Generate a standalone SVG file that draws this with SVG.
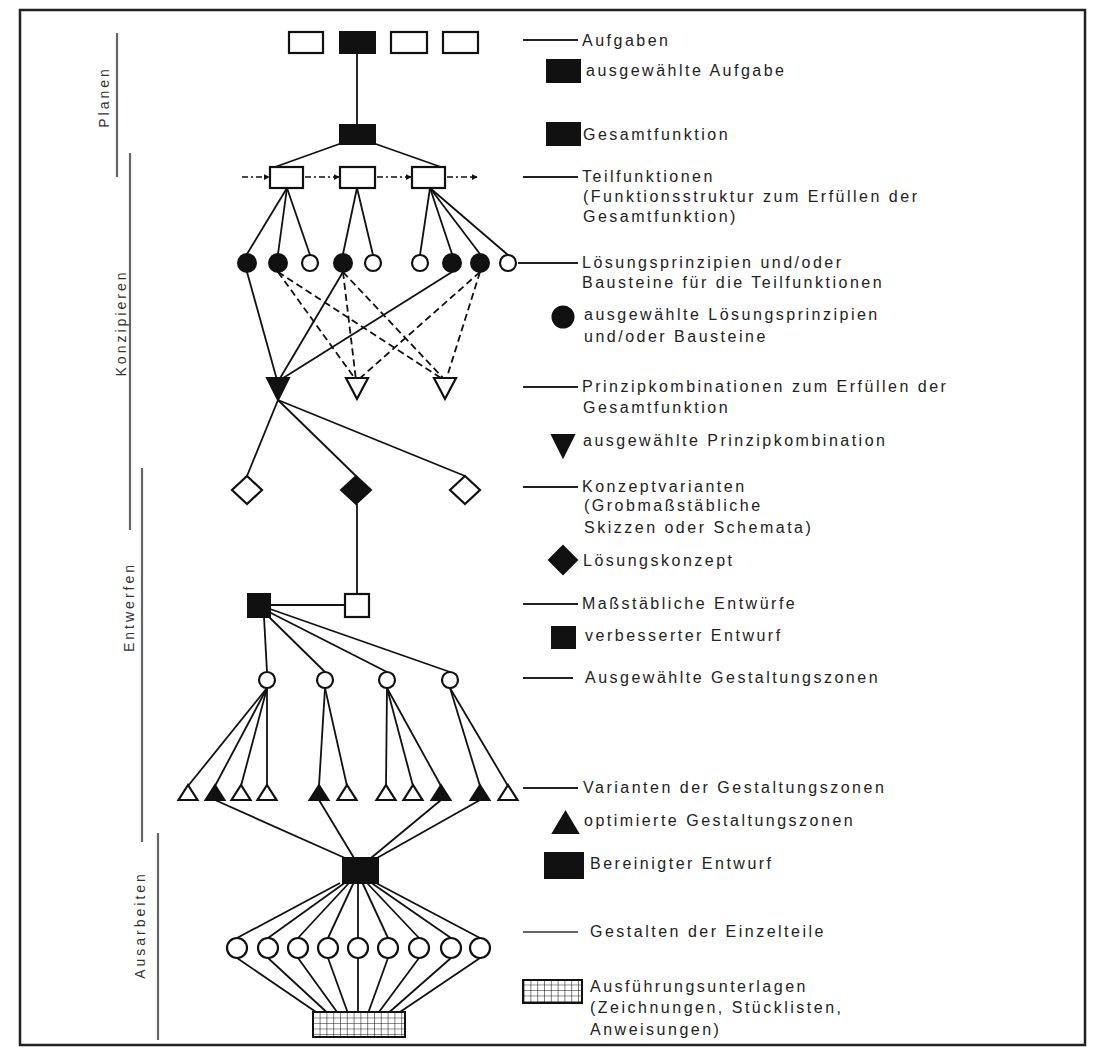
<svg xmlns="http://www.w3.org/2000/svg" width="1097" height="1056" viewBox="0 0 1097 1056">
  <defs>
    <style>
      .n { fill: #fff; stroke: #111; stroke-width: 2.2; }
      .f { fill: #111; stroke: #111; stroke-width: 2; }
      .h { fill: url(#grid); stroke: #111; stroke-width: 2; }
      .e { fill: none; stroke: #111; stroke-width: 1.8; }
      .d { fill: none; stroke: #111; stroke-width: 1.8; stroke-dasharray: 7 4; }
      .flow { fill: none; stroke: #111; stroke-width: 1.4; stroke-dasharray: 6 3 2 3; }
      .lead { stroke: #222; stroke-width: 2; }
      .thin { stroke: #333; stroke-width: 1.4; }
      .bar { stroke: #666; stroke-width: 2.2; }
      .lbl { font-family: "Liberation Sans", Arial, sans-serif; font-size: 16px; letter-spacing: 2.5px; fill: #222; }
      .side { font-family: "Liberation Sans", Arial, sans-serif; font-size: 14px; letter-spacing: 3px; fill: #333; text-anchor: middle; dominant-baseline: central; }
    </style>
    <pattern id="grid" width="6.8" height="5.5" patternUnits="userSpaceOnUse">
      <rect width="6.8" height="5.5" fill="#fff"/>
      <path d="M0 0H6.8M0 0V5.5" stroke="#111" stroke-width="1.1" fill="none"/>
    </pattern>
    <marker id="arr" viewBox="0 0 8 8" refX="7" refY="4" markerWidth="6" markerHeight="6" orient="auto" markerUnits="userSpaceOnUse">
      <path d="M0 0L8 4L0 8Z" fill="#111"/>
    </marker>
  </defs>

  <rect width="1097" height="1056" fill="#fff"/>

  <!-- page frame -->
  <rect x="20" y="10" width="1065" height="1035" fill="none" stroke="#222" stroke-width="2.5"/>

  <!-- phase bars and phase names -->
  <g id="phases">
    <line class="bar" x1="117" y1="33" x2="117" y2="177"/>
    <line class="bar" x1="130" y1="153" x2="130" y2="530"/>
    <line class="bar" x1="142" y1="468" x2="142" y2="842"/>
    <line class="bar" x1="158" y1="833" x2="158" y2="1040"/>
    <text class="side" transform="translate(104 97) rotate(-90)">Planen</text>
    <text class="side" transform="translate(121 323) rotate(-90)">Konzipieren</text>
    <text class="side" transform="translate(129 607) rotate(-90)">Entwerfen</text>
    <text class="side" transform="translate(140 925) rotate(-90)">Ausarbeiten</text>
  </g>

  <!-- connectors -->
  <g id="connectors">
    <!-- task to overall function -->
    <line class="e" x1="357" y1="53" x2="357" y2="125"/>
    <line class="e" x1="342" y1="143" x2="275" y2="167"/>
    <line class="e" x1="373" y1="143" x2="441" y2="167"/>
    <!-- function flow between sub-functions -->
    <line class="flow" x1="242" y1="177" x2="269" y2="177" marker-end="url(#arr)"/>
    <line class="flow" x1="305" y1="177" x2="339" y2="177" marker-end="url(#arr)"/>
    <line class="flow" x1="377" y1="177" x2="411" y2="177" marker-end="url(#arr)"/>
    <line class="flow" x1="447" y1="177" x2="477" y2="177" marker-end="url(#arr)"/>
    <!-- sub-functions to solution principles -->
    <line class="e" x1="287" y1="188" x2="247" y2="254"/>
    <line class="e" x1="287" y1="188" x2="278" y2="254"/>
    <line class="e" x1="287" y1="188" x2="310" y2="255"/>
    <line class="e" x1="357" y1="188" x2="343" y2="254"/>
    <line class="e" x1="357" y1="188" x2="373" y2="255"/>
    <line class="e" x1="430" y1="188" x2="420" y2="255"/>
    <line class="e" x1="430" y1="188" x2="452" y2="254"/>
    <line class="e" x1="430" y1="188" x2="480" y2="254"/>
    <line class="e" x1="430" y1="188" x2="508" y2="255"/>
    <!-- principles to combinations -->
    <line class="e" x1="247" y1="272" x2="277" y2="380"/>
    <line class="e" x1="343" y1="272" x2="279" y2="380"/>
    <line class="e" x1="452" y1="272" x2="280" y2="380"/>
    <line class="d" x1="278" y1="272" x2="356" y2="380"/>
    <line class="d" x1="278" y1="272" x2="444" y2="380"/>
    <line class="d" x1="343" y1="272" x2="356" y2="380"/>
    <line class="d" x1="343" y1="272" x2="445" y2="380"/>
    <line class="d" x1="480" y1="272" x2="358" y2="380"/>
    <line class="d" x1="480" y1="272" x2="446" y2="380"/>
    <!-- combination to concept variants -->
    <line class="e" x1="278" y1="400" x2="247" y2="476"/>
    <line class="e" x1="278" y1="400" x2="356" y2="476"/>
    <line class="e" x1="278" y1="400" x2="465" y2="476"/>
    <!-- concept to layouts -->
    <line class="e" x1="357" y1="504" x2="357" y2="594"/>
    <line class="e" x1="270" y1="605" x2="345" y2="605"/>
    <!-- improved layout to design zones -->
    <line class="e" x1="264" y1="617" x2="267" y2="672"/>
    <line class="e" x1="267" y1="615" x2="325" y2="672"/>
    <line class="e" x1="269" y1="612" x2="387" y2="672"/>
    <line class="e" x1="270" y1="609" x2="450" y2="672"/>
    <!-- design zones to variants -->
    <line class="e" x1="267" y1="688" x2="188" y2="786"/>
    <line class="e" x1="267" y1="688" x2="215" y2="786"/>
    <line class="e" x1="267" y1="688" x2="241" y2="786"/>
    <line class="e" x1="267" y1="688" x2="267" y2="786"/>
    <line class="e" x1="325" y1="688" x2="319" y2="786"/>
    <line class="e" x1="325" y1="688" x2="347" y2="786"/>
    <line class="e" x1="387" y1="688" x2="386" y2="786"/>
    <line class="e" x1="387" y1="688" x2="413" y2="786"/>
    <line class="e" x1="387" y1="688" x2="441" y2="786"/>
    <line class="e" x1="450" y1="688" x2="480" y2="786"/>
    <line class="e" x1="450" y1="688" x2="508" y2="786"/>
    <!-- optimised zones to definitive layout -->
    <line class="e" x1="215" y1="800" x2="345" y2="858"/>
    <line class="e" x1="319" y1="800" x2="354" y2="858"/>
    <line class="e" x1="441" y1="800" x2="371" y2="858"/>
    <line class="e" x1="480" y1="800" x2="377" y2="858"/>
    <!-- definitive layout to parts -->
    <line class="e" x1="340" y1="883" x2="237" y2="938"/>
    <line class="e" x1="344.5" y1="883" x2="268" y2="938"/>
    <line class="e" x1="349" y1="883" x2="298" y2="938"/>
    <line class="e" x1="353.5" y1="883" x2="328" y2="938"/>
    <line class="e" x1="358" y1="883" x2="358" y2="938"/>
    <line class="e" x1="362.5" y1="883" x2="388" y2="938"/>
    <line class="e" x1="367" y1="883" x2="419" y2="938"/>
    <line class="e" x1="371.5" y1="883" x2="451" y2="938"/>
    <line class="e" x1="376" y1="883" x2="480" y2="938"/>
    <!-- parts to production documents -->
    <line class="e" x1="237" y1="958" x2="316" y2="1012"/>
    <line class="e" x1="268" y1="958" x2="326.5" y2="1012"/>
    <line class="e" x1="298" y1="958" x2="337" y2="1012"/>
    <line class="e" x1="328" y1="958" x2="347.5" y2="1012"/>
    <line class="e" x1="358" y1="958" x2="358" y2="1012"/>
    <line class="e" x1="388" y1="958" x2="368.5" y2="1012"/>
    <line class="e" x1="419" y1="958" x2="379" y2="1012"/>
    <line class="e" x1="451" y1="958" x2="389.5" y2="1012"/>
    <line class="e" x1="480" y1="958" x2="400" y2="1012"/>
  </g>

  <!-- tasks -->
  <g id="aufgabe-1"><rect class="n" x="289" y="32" width="34" height="21"/></g>
  <g id="aufgabe-2"><rect class="f" x="340" y="32" width="35" height="21"/></g>
  <g id="aufgabe-3"><rect class="n" x="391" y="32" width="36" height="21"/></g>
  <g id="aufgabe-4"><rect class="n" x="443" y="32" width="35" height="21"/></g>

  <!-- overall function -->
  <g id="gesamtfunktion"><rect class="f" x="340" y="125" width="35" height="19"/></g>

  <!-- sub-functions -->
  <g id="teilfunktion-1"><rect class="n" x="270" y="167" width="33" height="21"/></g>
  <g id="teilfunktion-2"><rect class="n" x="340" y="167" width="35" height="21"/></g>
  <g id="teilfunktion-3"><rect class="n" x="412" y="167" width="33" height="21"/></g>

  <!-- solution principles -->
  <g id="prinzip-1"><circle class="f" cx="247" cy="263" r="9"/></g>
  <g id="prinzip-2"><circle class="f" cx="278" cy="263" r="9"/></g>
  <g id="prinzip-3"><circle class="n" cx="310" cy="263" r="8"/></g>
  <g id="prinzip-4"><circle class="f" cx="343" cy="263" r="9"/></g>
  <g id="prinzip-5"><circle class="n" cx="373" cy="263" r="8"/></g>
  <g id="prinzip-6"><circle class="n" cx="420" cy="263" r="8"/></g>
  <g id="prinzip-7"><circle class="f" cx="452" cy="263" r="9"/></g>
  <g id="prinzip-8"><circle class="f" cx="480" cy="263" r="9"/></g>
  <g id="prinzip-9"><circle class="n" cx="508" cy="263" r="8"/></g>

  <!-- principle combinations -->
  <g id="kombination-1"><polygon class="f" points="267,378 289,378 278,400"/></g>
  <g id="kombination-2"><polygon class="n" points="346,378 368,378 357,399"/></g>
  <g id="kombination-3"><polygon class="n" points="434,378 456,378 445,399"/></g>

  <!-- concept variants -->
  <g id="konzept-1"><polygon class="n" points="247,476 262,490 247,504 232,490"/></g>
  <g id="konzept-2"><polygon class="f" points="356,476 371,490 356,504 341,490"/></g>
  <g id="konzept-3"><polygon class="n" points="465,476 480,490 465,504 450,490"/></g>

  <!-- scale layouts -->
  <g id="entwurf-verbessert"><rect class="f" x="248" y="594" width="22" height="23"/></g>
  <g id="entwurf-1"><rect class="n" x="345" y="594" width="24" height="23"/></g>

  <!-- selected design zones -->
  <g id="zone-1"><circle class="n" cx="267" cy="680" r="8"/></g>
  <g id="zone-2"><circle class="n" cx="325" cy="680" r="8"/></g>
  <g id="zone-3"><circle class="n" cx="387" cy="680" r="8"/></g>
  <g id="zone-4"><circle class="n" cx="450" cy="680" r="8"/></g>

  <!-- design zone variants -->
  <g id="variante-1"><polygon class="n" points="178.5,800 197.5,800 188,785"/></g>
  <g id="variante-2"><polygon class="f" points="205.5,800 224.5,800 215,785"/></g>
  <g id="variante-3"><polygon class="n" points="231.5,800 250.5,800 241,785"/></g>
  <g id="variante-4"><polygon class="n" points="257.5,800 276.5,800 267,785"/></g>
  <g id="variante-5"><polygon class="f" points="309.5,800 328.5,800 319,785"/></g>
  <g id="variante-6"><polygon class="n" points="337.5,800 356.5,800 347,785"/></g>
  <g id="variante-7"><polygon class="n" points="376.5,800 395.5,800 386,785"/></g>
  <g id="variante-8"><polygon class="n" points="403.5,800 422.5,800 413,785"/></g>
  <g id="variante-9"><polygon class="f" points="431.5,800 450.5,800 441,785"/></g>
  <g id="variante-10"><polygon class="f" points="470.5,800 489.5,800 480,785"/></g>
  <g id="variante-11"><polygon class="n" points="498.5,800 517.5,800 508,785"/></g>

  <!-- definitive layout -->
  <g id="entwurf-bereinigt"><rect class="f" x="343" y="858" width="35" height="25"/></g>

  <!-- individual parts -->
  <g id="teil-1"><circle class="n" cx="237" cy="948" r="10"/></g>
  <g id="teil-2"><circle class="n" cx="268" cy="948" r="10"/></g>
  <g id="teil-3"><circle class="n" cx="298" cy="948" r="10"/></g>
  <g id="teil-4"><circle class="n" cx="328" cy="948" r="10"/></g>
  <g id="teil-5"><circle class="n" cx="358" cy="948" r="10"/></g>
  <g id="teil-6"><circle class="n" cx="388" cy="948" r="10"/></g>
  <g id="teil-7"><circle class="n" cx="419" cy="948" r="10"/></g>
  <g id="teil-8"><circle class="n" cx="451" cy="948" r="10"/></g>
  <g id="teil-9"><circle class="n" cx="480" cy="948" r="10"/></g>

  <!-- production documents -->
  <g id="unterlagen"><rect class="h" x="313" y="1012" width="92" height="25"/></g>

  <!-- legend -->
  <g id="legende">
    <g id="lg-aufgaben">
      <line class="lead" x1="523" y1="40" x2="578" y2="40"/>
      <text class="lbl" x="582" y="46">Aufgaben</text>
    </g>
    <g id="lg-aufgabe-gewaehlt">
      <rect class="f" x="547" y="60" width="33" height="22"/>
      <text class="lbl" x="586" y="76">ausgewählte Aufgabe</text>
    </g>
    <g id="lg-gesamtfunktion">
      <rect class="f" x="547" y="123" width="33" height="22"/>
      <text class="lbl" x="583" y="140">Gesamtfunktion</text>
    </g>
    <g id="lg-teilfunktionen">
      <line class="lead" x1="523" y1="177" x2="578" y2="177"/>
      <text class="lbl" x="582" y="182">Teilfunktionen</text>
      <text class="lbl" x="583" y="202">(Funktionsstruktur zum Erfüllen der</text>
      <text class="lbl" x="583" y="222">Gesamtfunktion)</text>
    </g>
    <g id="lg-prinzipien">
      <line class="lead" x1="518" y1="263" x2="578" y2="263"/>
      <text class="lbl" x="582" y="268">Lösungsprinzipien und/oder</text>
      <text class="lbl" x="582" y="288">Bausteine für die Teilfunktionen</text>
    </g>
    <g id="lg-prinzipien-gewaehlt">
      <circle class="f" cx="563" cy="317" r="10.5"/>
      <text class="lbl" x="584" y="320">ausgewählte Lösungsprinzipien</text>
      <text class="lbl" x="584" y="342">und/oder Bausteine</text>
    </g>
    <g id="lg-kombinationen">
      <line class="lead" x1="523" y1="387" x2="578" y2="387"/>
      <text class="lbl" x="582" y="392">Prinzipkombinationen zum Erfüllen der</text>
      <text class="lbl" x="583" y="413">Gesamtfunktion</text>
    </g>
    <g id="lg-kombination-gewaehlt">
      <polygon class="f" points="552,435 574,435 563,457"/>
      <text class="lbl" x="583" y="446">ausgewählte Prinzipkombination</text>
    </g>
    <g id="lg-konzeptvarianten">
      <line class="lead" x1="523" y1="487" x2="578" y2="487"/>
      <text class="lbl" x="582" y="492">Konzeptvarianten</text>
      <text class="lbl" x="584" y="511">(Grobmaßstäbliche</text>
      <text class="lbl" x="584" y="533">Skizzen oder Schemata)</text>
    </g>
    <g id="lg-loesungskonzept">
      <polygon class="f" points="563,546 577,560 563,574 549,560"/>
      <text class="lbl" x="583" y="566">Lösungskonzept</text>
    </g>
    <g id="lg-entwuerfe">
      <line class="lead" x1="523" y1="604" x2="578" y2="604"/>
      <text class="lbl" x="582" y="609">Maßstäbliche Entwürfe</text>
    </g>
    <g id="lg-entwurf-verbessert">
      <rect class="f" x="552" y="627" width="23" height="21"/>
      <text class="lbl" x="585" y="641">verbesserter Entwurf</text>
    </g>
    <g id="lg-zonen">
      <line class="lead" x1="523" y1="678" x2="573" y2="678"/>
      <text class="lbl" x="585" y="683">Ausgewählte Gestaltungszonen</text>
    </g>
    <g id="lg-varianten">
      <line class="lead" x1="523" y1="788" x2="578" y2="788"/>
      <text class="lbl" x="583" y="793">Varianten der Gestaltungszonen</text>
    </g>
    <g id="lg-zonen-optimiert">
      <polygon class="f" points="553,833 578,833 565.5,812"/>
      <text class="lbl" x="584" y="826">optimierte Gestaltungszonen</text>
    </g>
    <g id="lg-entwurf-bereinigt">
      <rect class="f" x="545" y="853" width="38" height="25"/>
      <text class="lbl" x="590" y="869">Bereinigter Entwurf</text>
    </g>
    <g id="lg-einzelteile">
      <line class="thin" x1="523" y1="932" x2="578" y2="932"/>
      <text class="lbl" x="590" y="937">Gestalten der Einzelteile</text>
    </g>
    <g id="lg-unterlagen">
      <rect class="h" x="523" y="980" width="59" height="23"/>
      <text class="lbl" x="590" y="992">Ausführungsunterlagen</text>
      <text class="lbl" x="590" y="1013">(Zeichnungen, Stücklisten,</text>
      <text class="lbl" x="590" y="1035">Anweisungen)</text>
    </g>
  </g>
</svg>
